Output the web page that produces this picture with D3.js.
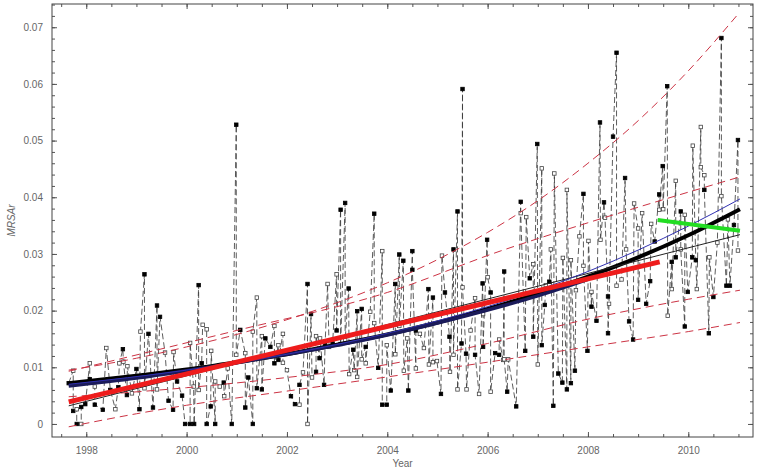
<!DOCTYPE html>
<html><head><meta charset="utf-8">
<script src="https://cdn.jsdelivr.net/npm/d3@7"></script>
<style>body{margin:0;background:#fff}svg{display:block}</style>
</head><body>
<script>
const dates=[1997.65,1997.74,1997.74,1997.81,1997.81,1997.90,1997.90,1997.98,1998.07,1998.07,
1998.17,1998.17,1998.33,1998.40,1998.48,1998.58,1998.64,1998.66,1998.73,1998.74,
1998.81,1998.82,1998.91,1999.00,1999.06,1999.08,1999.16,1999.16,1999.24,1999.33,
1999.41,1999.41,1999.47,1999.57,1999.64,1999.73,1999.74,1999.81,1999.91,1999.97,
2000.07,2000.07,2000.14,2000.15,2000.24,2000.24,2000.30,2000.32,2000.40,2000.40,
2000.48,2000.49,2000.57,2000.57,2000.66,2000.74,2000.75,2000.82,2000.90,2000.99,
2000.99,2001.07,2001.17,2001.17,2001.23,2001.32,2001.32,2001.40,2001.40,2001.50,
2001.50,2001.57,2001.67,2001.75,2001.75,2001.83,2001.83,2001.92,2001.92,2002.00,
2002.08,2002.16,2002.25,2002.25,2002.32,2002.41,2002.41,2002.48,2002.50,2002.58,
2002.58,2002.65,2002.66,2002.74,2002.76,2002.81,2002.84,2002.91,2002.99,2002.99,
2003.07,2003.07,2003.16,2003.16,2003.23,2003.24,2003.32,2003.34,2003.40,2003.40,
2003.49,2003.49,2003.57,2003.57,2003.66,2003.74,2003.74,2003.82,2003.90,2003.90,
2003.99,2003.99,2004.07,2004.16,2004.16,2004.24,2004.24,2004.32,2004.33,2004.40,
2004.42,2004.50,2004.50,2004.57,2004.57,2004.65,2004.73,2004.82,2004.83,2004.91,
2004.91,2004.99,2005.07,2005.09,2005.15,2005.24,2005.25,2005.32,2005.32,2005.40,
2005.40,2005.48,2005.50,2005.50,2005.57,2005.58,2005.66,2005.75,2005.75,2005.83,
2005.90,2005.91,2005.91,2005.99,2006.00,2006.06,2006.06,2006.15,2006.23,2006.23,
2006.31,2006.33,2006.33,2006.39,2006.41,2006.57,2006.66,2006.66,2006.75,2006.77,
2006.84,2006.91,2006.91,2006.99,2007.00,2007.08,2007.08,2007.14,2007.16,2007.23,
2007.26,2007.31,2007.33,2007.41,2007.49,2007.50,2007.58,2007.58,2007.66,2007.66,
2007.74,2007.76,2007.83,2007.91,2007.91,2007.99,2008.01,2008.07,2008.07,2008.17,
2008.24,2008.25,2008.32,2008.34,2008.40,2008.40,2008.42,2008.50,2008.57,2008.57,
2008.67,2008.74,2008.76,2008.82,2008.90,2008.92,2009.00,2009.00,2009.08,2009.16,
2009.24,2009.26,2009.33,2009.42,2009.42,2009.49,2009.50,2009.58,2009.59,2009.67,
2009.67,2009.75,2009.75,2009.85,2009.85,2009.93,2009.93,2009.99,2010.08,2010.09,
2010.15,2010.17,2010.25,2010.25,2010.32,2010.32,2010.41,2010.42,2010.50,2010.58,
2010.66,2010.66,2010.76,2010.79,2010.83,2010.91,2010.99,2010.99];
const values=[0.0072,0.0094,0.0023,0.0026,0,0,0.0030,0.0035,0.0107,0.0079,
0.0066,0.0034,0.0025,0.0134,0.0060,0.0026,0.0065,0.0107,0.0132,0.0110,
0.0051,0.0102,0.0054,0.0097,0.0026,0.0163,0.0264,0.0063,0.0159,0.0029,
0.0209,0.0061,0.0189,0.0126,0.0041,0.0025,0.0127,0.0075,0.0050,0,
0,0.0143,0.0066,0,0.0245,0.0060,0.0107,0.0175,0.0167,0,
0.0031,0.0129,0,0.0075,0.0066,0.0073,0.0049,0.0098,0,0.0528,
0.0122,0.0166,0.0125,0.0029,0.0082,0,0.0163,0.0223,0.0063,0.0155,
0.0061,0.0151,0.0136,0.0173,0.0107,0.0139,0.0113,0.0159,0.0108,0.0095,
0.0049,0.0035,0.0034,0.0069,0.0091,0.0247,0,0.0194,0.0082,0.0092,
0.0155,0.0116,0.0151,0.0069,0.0139,0.0247,0.0136,0.0142,0.0264,0.0165,
0.0378,0.0141,0.0390,0.0148,0.0239,0.0088,0.0131,0.0095,0.0199,0.0083,
0.0203,0.0114,0.0136,0.0107,0.0198,0.0371,0.0178,0.0099,0.0305,0.0034,
0.0034,0.0139,0.0059,0.0247,0.0123,0.0299,0.0173,0.0288,0.0094,0.0151,
0.0059,0.0305,0.0272,0.0098,0.0165,0.0159,0.0134,0.0238,0.0105,0.0223,
0.0109,0.0111,0.0053,0.0297,0.0232,0.0154,0.0092,0.0308,0.0122,0.0375,
0.0061,0.0142,0.0591,0.0241,0.0124,0.0061,0.0165,0.0222,0.0122,0.0053,
0.0248,0.0194,0.0136,0.0325,0.0259,0.0232,0.0057,0.0125,0.0122,0.0149,
0.0113,0.0269,0.0114,0.0057,0.0114,0.0031,0.0392,0.0372,0.0129,0.0365,
0.0257,0.0282,0.0154,0.0494,0.0105,0.0451,0.0139,0.0210,0.0245,0.0251,
0.0308,0.0032,0.0442,0.0089,0.0073,0.0293,0.0061,0.0413,0.0072,0.0289,
0.0094,0.0236,0.0331,0.0406,0.0279,0.0129,0.0323,0.0207,0.0233,0.0182,
0.0532,0.0325,0.0391,0.0364,0.0225,0.0160,0.0212,0.0507,0.0655,0.0244,
0.0255,0.0434,0.0308,0.0181,0.0149,0.0389,0.0345,0.0219,0.0372,0.0212,
0.0252,0.0353,0.0322,0.0405,0.0378,0.0455,0.0379,0.0596,0.0191,0.0286,
0.0238,0.0429,0.0294,0.0375,0.0308,0.0172,0.0369,0.0233,0.0294,0.0491,
0.0289,0.0238,0.0524,0.0453,0.0439,0.0413,0.0160,0.0294,0.0224,0.0320,
0.0681,0.0402,0.0244,0.0361,0.0244,0.0351,0.0501,0.0306];
const filled=[1,0,1,0,1,0,1,1,0,1, 0,1,1,0,1,0,1,0,1,0, 1,0,0,1,1,0,1,0,1,1, 1,0,1,0,1,1,0,1,1,1,
1,0,0,1,1,0,1,0,0,1, 1,0,1,0,0,1,0,0,1,1, 0,1,0,1,1,1,0,0,1,0, 1,1,1,0,1,0,1,0,0,0,
1,1,0,1,0,1,0,1,0,1, 0,1,0,1,1,0,0,1,0,1, 1,1,1,0,1,0,1,0,1,0, 1,0,1,0,0,1,0,1,0,1,
1,0,1,1,0,1,0,1,0,0, 1,1,1,0,1,0,0,1,0,1, 0,0,1,0,1,1,0,1,0,1, 0,1,1,0,1,0,0,0,1,0,
1,0,1,1,0,1,0,1,1,0, 0,1,0,1,0,1,1,0,1,0, 1,0,1,1,0,0,1,1,0,1, 0,1,0,1,1,0,1,0,1,0,
1,0,0,1,0,1,0,1,0,1, 1,0,1,0,1,1,0,1,1,0, 0,1,0,1,1,0,0,1,0,1, 1,0,1,1,0,1,0,1,0,1,
0,0,1,1,0,1,0,1,1,0, 1,0,0,0,0,1,1,0,1,0, 1,0,1,0,1,1,1,0];

// fitted curves
const expYears=[1997.65,1999,2000,2001,2002,2003,2004,2005,2006,2007,2008,2009,2010,2011.03];
const expFit=[0.0072,0.0085,0.0096,0.0109,0.0123,0.0140,0.0158,0.0179,0.0203,0.0230,0.0260,0.0294,0.0333,0.0379];
const navyYears=[1997.65,1999,2000,2001,2002,2003,2004,2005,2006,2007,2008];
const navyFit=[0.0067,0.0081,0.0094,0.0108,0.0123,0.0139,0.0157,0.0178,0.0201,0.0226,0.0255];
const linYears=[1997.65,2009.43];
const linFit=[0.0039,0.0286];
const thinBlackYears=[1997.65,2011.03];
const thinBlack=[0.0032,0.0334];
const thinBlueYears=[1997.65,2000,2002,2004,2006,2008,2010,2011.03];
const thinBlue=[0.0070,0.0095,0.0123,0.0160,0.0207,0.0269,0.0349,0.0397];
const greenYears=[2009.39,2011.03];
const greenFit=[0.0360,0.0341];
const upperOuterYears=[1997.65,1999,2000,2001,2002,2003,2004,2005,2006,2007,2008,2009,2010,2011.02];
const upperOuter=[0.0095,0.0116,0.0136,0.0158,0.0184,0.0214,0.0249,0.0290,0.0338,0.0394,0.0460,0.0535,0.0623,0.0726];
const upperInnerYears=[1997.65,2001,2004,2006.25,2008,2011.03];
const upperInner=[0.0093,0.0165,0.0232,0.0305,0.0355,0.0436];
const lowerInnerYears=[1997.65,2000,2002,2004,2006,2008,2010,2011.03];
const lowerInner=[0.0048,0.0064,0.0082,0.0105,0.0142,0.0185,0.0220,0.0236];
const lowerOuterYears=[1997.65,1999,2000,2002,2004,2006,2008,2010,2011.03];
const lowerOuter=[-0.0005,0.0018,0.0033,0.0058,0.0083,0.0109,0.0136,0.0163,0.0179];

const yTickLabels=["0","0.01","0.02","0.03","0.04","0.05","0.06","0.07"];
const xTickLabels=["1998","2000","2002","2004","2006","2008","2010"];

const W=760,H=474;
const L=52,R=753,T=4,B=437;
const svg=d3.select("body").append("svg").attr("width",W).attr("height",H);
const x=d3.scaleLinear().domain([1997.317,2011.29]).range([L,R]);
const y=d3.scaleLinear().domain([-0.0023,0.0741]).range([B,T]);

const axisColor="#555";
const g=svg.append("g");
const halfYears=d3.range(1997.5,2011.3,0.5);
const yearMajor=xTickLabels.map(Number);
const yMinor=d3.range(0,0.0741,0.002);
const yMajor=yTickLabels.map(Number);
function styleAxis(sel){sel.select(".domain").remove();sel.selectAll("line").attr("stroke",axisColor);sel.selectAll("text").attr("fill","#666").style("font-family","Liberation Sans, Arial, sans-serif").style("font-size","10px");}
g.append("g").attr("transform",`translate(0,${B})`).call(d3.axisBottom(x).tickValues(halfYears).tickSize(-3).tickFormat("")).call(styleAxis);
g.append("g").attr("transform",`translate(0,${B})`).call(d3.axisBottom(x).tickValues(yearMajor).tickSize(-5).tickPadding(10).tickFormat((d,i)=>xTickLabels[i])).call(styleAxis);
g.append("g").attr("transform",`translate(0,${T})`).call(d3.axisTop(x).tickValues(halfYears).tickSize(-3).tickFormat("")).call(styleAxis);
g.append("g").attr("transform",`translate(0,${T})`).call(d3.axisTop(x).tickValues(yearMajor).tickSize(-5).tickFormat("")).call(styleAxis);
g.append("g").attr("transform",`translate(${L},0)`).call(d3.axisLeft(y).tickValues(yMinor).tickSize(-3).tickFormat("")).call(styleAxis);
g.append("g").attr("transform",`translate(${L},0)`).call(d3.axisLeft(y).tickValues(yMajor).tickSize(-5).tickPadding(9).tickFormat((d,i)=>yTickLabels[i])).call(styleAxis);
g.append("g").attr("transform",`translate(${R},0)`).call(d3.axisRight(y).tickValues(yMinor).tickSize(-3).tickFormat("")).call(styleAxis);
g.append("g").attr("transform",`translate(${R},0)`).call(d3.axisRight(y).tickValues(yMajor).tickSize(-5).tickFormat("")).call(styleAxis);
svg.append("rect").attr("x",L).attr("y",T).attr("width",R-L).attr("height",B-T).attr("fill","none").attr("stroke","#444").attr("stroke-width",1);

svg.append("text").attr("x",(L+R)/2).attr("y",467).attr("text-anchor","middle").attr("fill","#666")
  .style("font-family","Liberation Sans, Arial, sans-serif").style("font-size","10px").text("Year");
svg.append("text").attr("transform",`translate(15,${(T+B)/2}) rotate(-90)`).attr("text-anchor","middle").attr("fill","#666")
  .style("font-family","Liberation Sans, Arial, sans-serif").style("font-size","10px").style("font-style","italic").text("MRSAr");

const pts=dates.map((d,i)=>({t:d,v:values[i],f:filled[i]}));
const line=d3.line().x(d=>x(d.t)).y(d=>y(d.v));
svg.append("path").datum(pts).attr("d",line).attr("fill","none").attr("stroke","#333").attr("stroke-width",0.8).attr("stroke-dasharray","6,3");
svg.append("g").selectAll("rect").data(pts).join("rect")
  .attr("x",d=>x(d.t)-1.75).attr("y",d=>y(d.v)-1.75).attr("width",3.5).attr("height",3.5)
  .attr("fill",d=>d.f?"#000":"#fff").attr("stroke",d=>d.f?"#000":"#444").attr("stroke-width",0.8);

function curve(years,vals,color,width,dash){
  const data=years.map((t,i)=>({t:t,v:vals[i]}));
  const p=svg.append("path").datum(data).attr("d",d3.line().x(d=>x(d.t)).y(d=>y(d.v)).curve(d3.curveMonotoneX))
    .attr("fill","none").attr("stroke",color).attr("stroke-width",width).attr("stroke-linecap","butt");
  if(dash)p.attr("stroke-dasharray",dash);
}
const dashRed="#cc3344";
curve(upperOuterYears,upperOuter,dashRed,1,"8,5");
curve(upperInnerYears,upperInner,dashRed,1,"8,5");
curve(lowerInnerYears,lowerInner,dashRed,1,"8,5");
curve(lowerOuterYears,lowerOuter,dashRed,1,"8,5");
curve(expYears,expFit,"#000",4);
curve(navyYears,navyFit,"#1b1b5a",3.5);
curve(thinBlackYears,thinBlack,"#222",1);
curve(thinBlueYears,thinBlue,"#3030b0",1);
curve(linYears,linFit,"#ee1c1c",5);
curve(greenYears,greenFit,"#22dd22",4);
</script>
</body></html>
